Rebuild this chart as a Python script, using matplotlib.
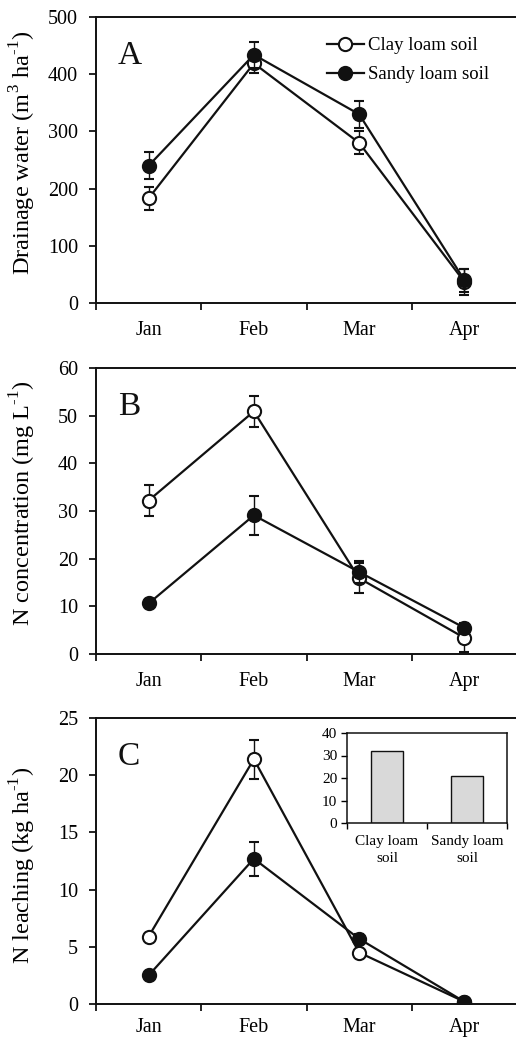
import matplotlib
matplotlib.use("Agg")
import matplotlib.pyplot as plt
from matplotlib.lines import Line2D
import numpy as np

plt.rcParams['font.family'] = ['Liberation Serif', 'DejaVu Serif']
plt.rcParams['mathtext.fontset'] = 'custom'
plt.rcParams['mathtext.rm'] = 'Liberation Serif'

months = ["Jan", "Feb", "Mar", "Apr"]
series_names = ["Clay loam soil", "Sandy loam soil"]

# Panel A: drainage water (m3 ha-1)
drain_clay = [183, 419, 280, 37]
drain_clay_err = [20, 17, 20, 23]
drain_sandy = [240, 434, 330, 40]
drain_sandy_err = [24, 23, 24, 20]

# Panel B: N concentration (mg L-1)
conc_clay = [32.2, 50.9, 15.9, 3.4]
conc_clay_err = [3.3, 3.3, 3.2, 3.0]
conc_sandy = [10.6, 29.1, 17.2, 5.5]
conc_sandy_err = [1.0, 4.1, 2.3, 0.5]

# Panel C: N leaching (kg ha-1)
leach_clay = [5.9, 21.4, 4.5, 0.2]
leach_clay_err = [0.3, 1.7, 0.3, 0.1]
leach_sandy = [2.5, 12.7, 5.7, 0.2]
leach_sandy_err = [0.3, 1.5, 0.4, 0.1]

# Inset: total N leaching
inset_labels = ["Clay loam\nsoil", "Sandy loam\nsoil"]
inset_values = [32, 21]

W, H = 516, 1038
fig = plt.figure(figsize=(W / 100, H / 100), dpi=100)

def box(l, t, r, b):
    return [l / W, 1 - b / H, (r - l) / W, (b - t) / H]

axA = fig.add_axes(box(96, 17, 517, 303))
axB = fig.add_axes(box(96, 368, 517, 654))
axC = fig.add_axes(box(96, 718, 517, 1004))

x = np.arange(len(months))
col = '#111111'
mstyle = dict(color=col, lw=1.6, marker='o', markersize=9.5, markeredgewidth=1.5,
              markeredgecolor=col)

def panel(ax, clay, clay_err, sandy, sandy_err, ylim, yticks, ylabel, letter, xpad, ly):
    common = dict(ecolor=col, elinewidth=1.0, capsize=3.5, capthick=1.0, **mstyle)
    ax.errorbar(x, clay, yerr=clay_err, markerfacecolor='white', zorder=3, **common)
    ax.errorbar(x, sandy, yerr=sandy_err, markerfacecolor=col, zorder=4, **common)
    ax.set_xlim(-0.5, 3.5)
    ax.set_ylim(*ylim)
    ax.set_yticks(yticks)
    ax.set_xticks(x)
    ax.set_xticklabels(months)
    ax.set_xticks(np.arange(-0.5, 3.6, 1.0), minor=True)
    ax.tick_params(axis='x', which='major', length=0, pad=xpad, labelsize=14.5)
    ax.tick_params(axis='x', which='minor', length=5, width=1.2, direction='out')
    ax.tick_params(axis='y', length=5, width=1.2, direction='out', labelsize=14.5, pad=8)
    for s in ['left', 'bottom', 'top']:
        ax.spines[s].set_linewidth(1.4)
        ax.spines[s].set_color(col)
    ax.spines['right'].set_visible(False)
    ax.set_ylabel(ylabel, fontsize=17.5)
    ax.yaxis.set_label_coords(-0.137, ly)
    ax.text(0.052, 0.835, letter, transform=ax.transAxes, fontsize=24,
            va='baseline', ha='left', color=col)

panel(axA, drain_clay, drain_clay_err, drain_sandy, drain_sandy_err,
      (0, 500), [0, 100, 200, 300, 400, 500],
      r'Drainage water (m$^{3}$ ha$^{\text{-1}}$)', 'A', 13, 0.524)
panel(axB, conc_clay, conc_clay_err, conc_sandy, conc_sandy_err,
      (0, 60), [0, 10, 20, 30, 40, 50, 60],
      r'N concentration (mg L$^{\text{-1}}$)', 'B', 13, 0.528)
panel(axC, leach_clay, leach_clay_err, leach_sandy, leach_sandy_err,
      (0, 25), [0, 5, 10, 15, 20, 25],
      r'N leaching (kg ha$^{\text{-1}}$)', 'C', 10, 0.486)

handles = [Line2D([], [], markerfacecolor='white', **mstyle),
           Line2D([], [], markerfacecolor=col, **mstyle)]
leg = axA.legend(handles, series_names, loc='upper left',
                 bbox_to_anchor=(0.53, 0.955), frameon=False,
                 fontsize=13.5, handlelength=2.0, handletextpad=0.2,
                 labelspacing=0.62, borderaxespad=0)

# Inset
axI = fig.add_axes(box(347, 733, 507, 823))
xi = np.arange(len(inset_values))
axI.bar(xi, inset_values, width=0.4, color='#d9d9d9', edgecolor=col, linewidth=1.0)
axI.set_xlim(-0.5, 1.5)
axI.set_ylim(0, 40)
axI.set_yticks([0, 10, 20, 30, 40])
axI.set_xticks(xi)
axI.set_xticklabels(inset_labels, linespacing=1.3)
axI.set_xticks([-0.5, 0.5, 1.5], minor=True)
axI.tick_params(axis='x', which='major', length=0, pad=9, labelsize=11)
axI.tick_params(axis='x', which='minor', length=4, width=1.0, direction='out')
axI.tick_params(axis='y', length=4, width=1.0, direction='out', labelsize=11, pad=3)
for s in axI.spines.values():
    s.set_linewidth(1.1)
    s.set_color(col)

fig.savefig('out.png', dpi=100)
